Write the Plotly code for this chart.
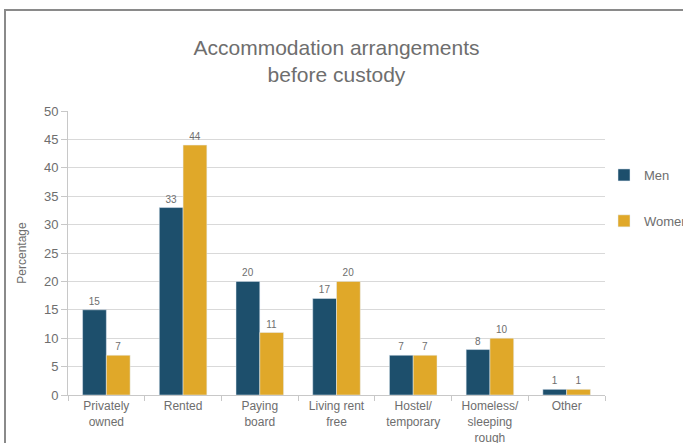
import plotly.graph_objects as go

categories = ["Privately<br>owned", "Rented", "Paying<br>board", "Living rent<br>free",
              "Hostel/<br>temporary", "Homeless/<br>sleeping<br>rough", "Other"]
men = [15, 33, 20, 17, 7, 8, 1]
women = [7, 44, 11, 20, 7, 10, 1]
y_ticks = [0, 5, 10, 15, 20, 25, 30, 35, 40, 45, 50]

MEN_COLOR = "#1d4f6c"
WOMEN_COLOR = "#e0a829"
TXT = "#6e6e6e"

fig = go.Figure()
fig.add_trace(go.Bar(name="Men", x=categories, y=men, marker_color=MEN_COLOR,
                     legendgroup="men",
                     text=men, textposition="outside", cliponaxis=False,
                     textfont=dict(size=10, color=TXT, family="Liberation Sans")))
fig.add_trace(go.Bar(name="Women", x=categories, y=women, marker_color=WOMEN_COLOR,
                     legendgroup="women",
                     text=women, textposition="outside", cliponaxis=False,
                     textfont=dict(size=10, color=TXT, family="Liberation Sans")))

L, R, T, B = 68, 78, 111, 48
W, H = 683, 443
pw, ph = W - L - R, H - T - B

fig.update_layout(
    width=W, height=H,
    margin=dict(l=L, r=R, t=T, b=B, autoexpand=False),
    paper_bgcolor="white", plot_bgcolor="white",
    barmode="group", bargap=0.38, bargroupgap=0,
    font=dict(family="Liberation Sans", color=TXT),
    title=dict(text="Accommodation arrangements<br>before custody",
               x=0.5, xanchor="center", xref="paper", y=(H - 55) / H, yanchor="middle",
               font=dict(size=21, color=TXT, family="Liberation Sans")),
    legend=dict(x=(604 - L) / pw, y=(H - 160) / H, yref="container", xanchor="left", yanchor="top",
                font=dict(size=13, color=TXT), tracegroupgap=26,
                itemwidth=30, bgcolor="rgba(0,0,0,0)", traceorder="grouped"),
    showlegend=True,
)
fig.update_yaxes(range=[0, 50], tickvals=y_ticks, showgrid=True, gridcolor="#d9d9d9",
                 showline=True, linecolor="#c8c8c8", ticks="outside", ticklen=6,
                 tickcolor="#c8c8c8", tickfont=dict(size=13, color=TXT),
                 title=dict(text="Percentage", font=dict(size=12, color=TXT), standoff=14),
                 zeroline=False)
fig.update_xaxes(showline=True, linecolor="#c8c8c8", ticks="outside", tickson="boundaries",
                 ticklen=5, tickcolor="#c8c8c8", tickfont=dict(size=12, color=TXT))

# screenshot frame border
fig.add_shape(type="rect", xref="paper", yref="paper",
              x0=(5 - L) / pw, x1=(W + 20 - L) / pw,
              y0=-(B + 20) / ph, y1=1 + (T - 10) / ph,
              line=dict(color="#8a8a8a", width=2), layer="below")

fig.write_html("out.html", config={"displayModeBar": False},
               post_script="document.body.style.margin='0';")
